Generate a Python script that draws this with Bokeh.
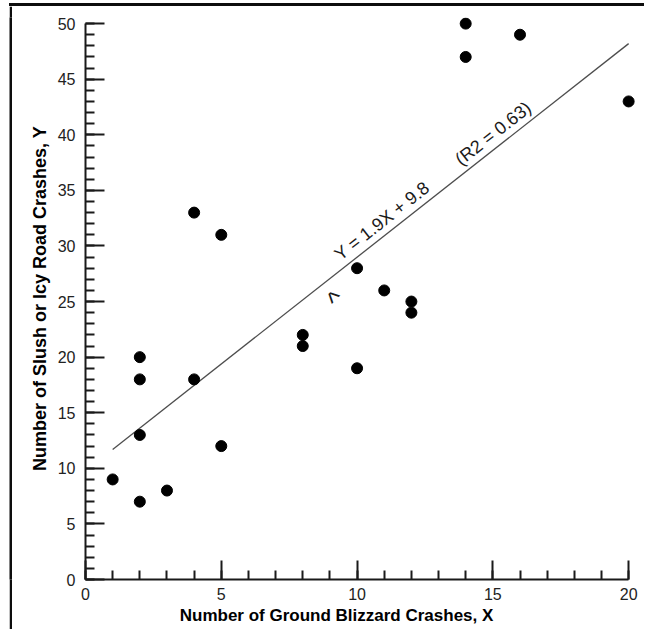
import math
from bokeh.plotting import figure
from bokeh.layouts import column, row
from bokeh.models import Range1d, SingleIntervalTicker, Label, Spacer
from bokeh.embed import file_html
from bokeh.resources import INLINE

# ---- data ----
blizzard_x = [1, 2, 2, 2, 2, 3, 4, 4, 5, 5, 8, 8, 10, 10, 11, 12, 12, 14, 14, 16, 20]
slush_y = [9, 7, 13, 18, 20, 8, 33, 18, 31, 12, 22, 21, 28, 19, 26, 25, 24, 50, 47, 49, 43]
fit_line_x = [1, 20]
fit_line_y = [11.7, 48.2]
eq_label = "Y = 1.9X + 9.8"
r2_label = "(R2 = 0.63)"
x_title = "Number of Ground Blizzard Crashes, X"
y_title = "Number of Slush or Icy Road Crashes, Y"

FONT = "Liberation Sans"
INK = "#1a1a1a"


def bar(width, height):
    b = figure(width=width, height=height, output_backend="svg", toolbar_location=None,
               x_axis_type=None, y_axis_type=None,
               min_border_left=0, min_border_top=0, min_border_right=0, min_border_bottom=0)
    b.background_fill_color = "#0d0d0d"
    b.border_fill_color = "#0d0d0d"
    b.outline_line_color = None
    b.xgrid.visible = False
    b.ygrid.visible = False
    return b


PH = 623
top_bar = Spacer(width=635, height=3, styles={"background-color": "#0d0d0d"})
left_bar = bar(3, PH)

p = figure(width=632, height=PH, output_backend="svg", toolbar_location=None,
           x_range=Range1d(0, 20.4), y_range=Range1d(0, 50.55),
           min_border_left=73, min_border_right=5, min_border_top=11, min_border_bottom=50)
p.outline_line_color = None
p.xgrid.visible = False
p.ygrid.visible = False
p.background_fill_color = "white"
p.border_fill_color = "white"

p.xaxis.ticker = SingleIntervalTicker(interval=5, num_minor_ticks=5)
p.yaxis.ticker = SingleIntervalTicker(interval=5, num_minor_ticks=5)
p.xaxis.bounds = (0, 20)
p.yaxis.bounds = (0, 50)
for ax in (p.xaxis[0], p.yaxis[0]):
    ax.axis_line_color = INK
    ax.axis_line_width = 2
    ax.major_tick_line_color = INK
    ax.major_tick_line_width = 2
    ax.minor_tick_line_color = INK
    ax.minor_tick_line_width = 2
    ax.major_tick_in = 19
    ax.major_tick_out = 0
    ax.minor_tick_in = 9
    ax.minor_tick_out = 0
    ax.major_label_text_font = FONT
    ax.major_label_text_font_size = "16px"
    ax.major_label_text_color = "#222222"
    ax.axis_label_text_font = FONT
    ax.axis_label_text_font_style = "bold"
    ax.axis_label_text_color = "black"
# the reference title sits left of the axis centre: pad with no-break spaces
p.xaxis.axis_label = x_title + "\u00a0" * 11
p.yaxis.axis_label = y_title
p.xaxis.axis_label_text_font_size = "17px"
p.yaxis.axis_label_text_font_size = "18px"
p.xaxis.major_label_standoff = 8
p.xaxis.axis_label_standoff = 3
p.yaxis.major_label_standoff = 10
p.yaxis.axis_label_standoff = 5

# regression line
p.line(fit_line_x, fit_line_y, line_color="#4d4d4d", line_width=1.3)

# data points
p.scatter(blizzard_x, slush_y, size=11, color="black")

# screen angle of fit line
slope = (fit_line_y[1] - fit_line_y[0]) / (fit_line_x[1] - fit_line_x[0])
ang = math.atan(slope * (562 / 50.55) / (554 / 20.4))
d = 13
ox, oy = -d * math.sin(ang), d * math.cos(ang)


def on_line(x):
    return fit_line_y[0] + slope * (x - fit_line_x[0])


eq_x = 9.55
r2_x = 14.0
p.add_layout(Label(x=eq_x, y=on_line(eq_x), text=eq_label, angle=ang,
                   x_offset=ox, y_offset=oy, text_font=FONT, text_font_size="18px",
                   text_color=INK, text_baseline="alphabetic", text_align="left"))
p.add_layout(Label(x=r2_x, y=on_line(r2_x), text=r2_label, angle=ang,
                   x_offset=ox, y_offset=oy, text_font=FONT, text_font_size="18px",
                   text_color=INK, text_baseline="alphabetic", text_align="left"))
# stray hat mark
p.add_layout(Label(x=9.21, y=25.2, text="^", angle=0.79, text_font=FONT,
                   text_font_size="26px", text_color=INK, text_baseline="middle",
                   text_align="center"))

layout = column(
    Spacer(width=644, height=3),
    row(Spacer(width=9, height=3), top_bar, spacing=0),
    row(Spacer(width=9, height=PH), left_bar, p, spacing=0),
    spacing=0,
)
open("out.html", "w").write(file_html(layout, INLINE))
